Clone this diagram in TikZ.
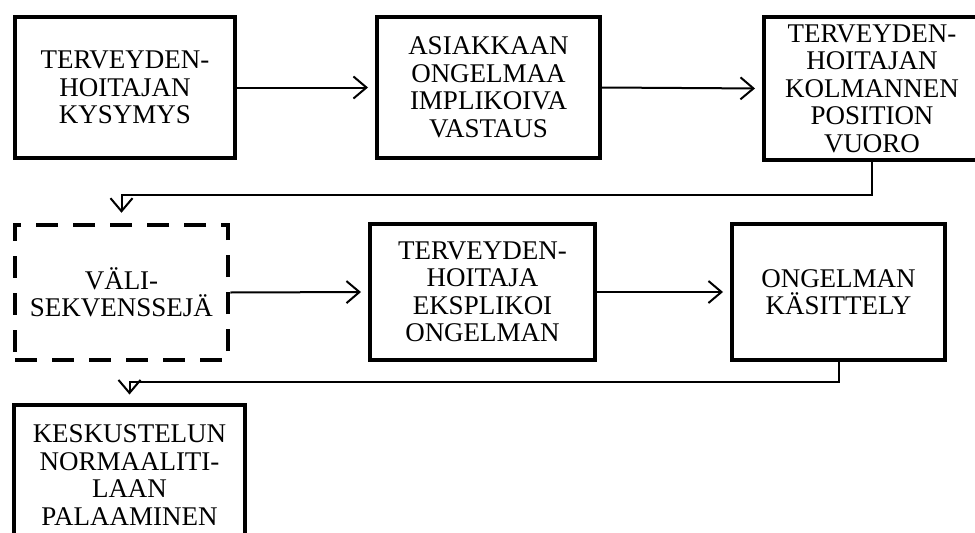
\documentclass[tikz,border=0pt]{standalone}
\usepackage{fontspec}
\setmainfont{Liberation Serif}
\usetikzlibrary{arrows.meta}
\begin{document}
\begin{tikzpicture}[x=1pt,y=-1pt,
  box/.style={draw,line width=4pt,inner sep=0pt,align=center,
    font=\fontsize{27}{27.5}\selectfont},
  dbox/.style={box,dash pattern=on 22pt off 15pt,line width=4.5pt},
  conn/.style={line width=2pt},
  arr/.style={conn,-{Straight Barb[length=13pt,width=22pt,line width=2pt]},shorten >=7pt}]
\clip (0,0) rectangle (975,533);
\fill[white] (0,0) rectangle (975,533);
\node[box,minimum width=220pt,minimum height=141pt] (b1) at (125,87.5) {TERVEYDEN-\\HOITAJAN\\KYSYMYS};
\node[box,minimum width=223pt,minimum height=141pt] (b2) at (488.5,87.5) {ASIAKKAAN\\ONGELMAA\\IMPLIKOIVA\\VASTAUS};
\node[box,minimum width=216pt,minimum height=143pt] (b3) at (872,88.5) {TERVEYDEN-\\HOITAJAN\\KOLMANNEN\\POSITION\\VUORO};
\node[dbox,minimum width=213pt,minimum height=135pt] (b4) at (121.5,292.5) {VÄLI-\\SEKVENSSEJÄ};
\node[box,minimum width=225pt,minimum height=136pt] (b5) at (482.5,292) {TERVEYDEN-\\HOITAJA\\EKSPLIKOI\\ONGELMAN};
\node[box,minimum width=213pt,minimum height=136pt] (b6) at (838.5,292) {ONGELMAN\\KÄSITTELY};
\node[box,minimum width=231pt,minimum height=141pt] (b7) at (129.5,475) {KESKUSTELUN\\NORMAALITI-\\LAAN\\PALAAMINEN};
\draw[arr] (b1.east) -- (b2.west);
\draw[arr] (b2.east) -- (b3.west);
\draw[arr,shorten >=10pt] (b3.south) -- ++(0,33) -| (b4.north);
\draw[arr] (b4.east) -- (b5.west);
\draw[arr] (b5.east) -- (b6.west);
\draw[arr,shorten >=8pt] (b6.south) -- ++(0,20) -| (b7.north);
\end{tikzpicture}
\end{document}
